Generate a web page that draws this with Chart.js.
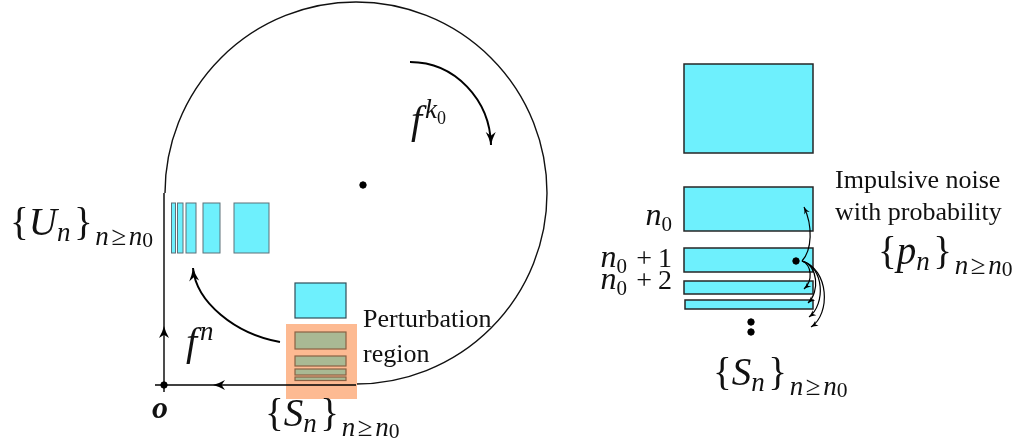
<!DOCTYPE html>
<html>
<head>
<meta charset="utf-8">
<script src="https://cdn.jsdelivr.net/npm/chart.js@4.4.1/dist/chart.umd.min.js"></script>
<style>
  html, body { margin: 0; padding: 0; background: #ffffff; overflow: hidden; }
  #c { display: block; }
  .fl { position: absolute; left: -9999px; top: 0; font-family: "Liberation Serif"; }
</style>
</head>
<body>
<span class="fl">Aa</span><span class="fl" style="font-style:italic">Aa</span><span class="fl" style="font-style:italic;font-weight:bold">Aa</span>
<canvas id="c" width="1022" height="443"></canvas>
<script>
// ---------- diagram data (in diagram units, mapped through the chart's scales) ----------
const orbitCircle = [356, 193, 191];            // centre x, centre y, radius
const axisVertical = [[164, 193], [164, 392]];
const axisHorizontal = [[155, 385], [356, 385]];
const dotPoints = [[363, 185], [164, 385], [796, 261], [751, 322], [751, 332]];

// rectangles: [x0, y0, x1, y1]
const unRects = [[171.5, 203, 175.5, 253], [177.5, 203, 183, 253], [186, 203, 196, 253], [203, 203, 220, 253], [234, 203, 269, 253]];
const imageRect = [[295, 283, 346, 318]];
const perturbRegion = [[286, 324, 357, 399]];
const snLeftRects = [[295, 332, 346, 349], [295, 356, 346, 366], [295, 369, 346, 375], [295, 377, 346, 380.5]];
const snRightRects = [[684, 64, 813, 153], [684, 187, 813, 231], [684, 248, 813, 272], [684, 281, 813, 294], [685, 300, 813, 309]];

// cubic curves: [x0,y0, c1x,c1y, c2x,c2y, x1,y1] ; arrow at the end
const mapCurves = [
  [410, 62, 455, 62, 490, 100, 491, 145],
  [280, 342, 235, 334, 196, 302, 193, 268]
];
const noiseCurves = [
  [802, 261, 812, 250, 813, 226, 804, 207],
  [802, 261, 812, 265, 813, 281, 804, 289],
  [802, 261, 818, 265, 820, 292, 808, 303],
  [802, 261, 824, 267, 826, 304, 809, 317],
  [802, 261, 829, 269, 831, 314, 811, 327]
];
const axisArrows = [[164, 326, -90], [213, 385, 180]];

// text
const plainLabels = [
  ['Perturbation', 363, 327],
  ['region', 363, 362],
  ['Impulsive noise', 835, 188],
  ['with probability', 835, 220]
];
const setLabels = [   // letter, x, baseline
  ['U', 10, 235],
  ['S', 265, 426],
  ['S', 713, 385],
  ['p', 878, 264]
];
const levelLabels = [ // suffix, right x, baseline
  ['', 672, 225],
  ['+1', 672, 267],
  ['+2', 672, 289]
];
const powerLabels = [ // base, exponent, exponent subscript, x, baseline
  ['f', 'n', '', 186, 355],
  ['f', 'k', '0', 411, 133]
];
const originLabel = ['o', 152, 418];

// ---------- drawing helpers ----------
const SERIF = '"Liberation Serif", "Times New Roman", Times, "DejaVu Serif", serif';

function diagramPlugin() {
  return {
    id: 'diagram',
    beforeDatasetsDraw(chart) {
      const ctx = chart.ctx, X = v => chart.scales.x.getPixelForValue(v), Y = v => chart.scales.y.getPixelForValue(v);
      const rect = (r, fill, stroke, lw) => {
        const x0 = X(r[0]), y0 = Y(r[1]), x1 = X(r[2]), y1 = Y(r[3]);
        ctx.fillStyle = fill; ctx.fillRect(x0, y0, x1 - x0, y1 - y0);
        if (stroke) { ctx.strokeStyle = stroke; ctx.lineWidth = lw; ctx.strokeRect(x0, y0, x1 - x0, y1 - y0); }
      };
      ctx.save();
      const cx = X(orbitCircle[0]), cy = Y(orbitCircle[1]);
      const r = X(orbitCircle[0] + orbitCircle[2]) - cx;
      ctx.beginPath();
      ctx.arc(cx, cy, r, Math.PI, Math.PI * 2.5, false);
      ctx.strokeStyle = '#111'; ctx.lineWidth = 1.4; ctx.stroke();

      unRects.forEach(q => rect(q, '#6ef0fd', '#5d7078', 1));
      rect(imageRect[0], '#6ef0fd', '#2f4f5a', 1.2);
      perturbRegion.forEach(q => rect(q, '#fdba92', null, 0));
      snLeftRects.forEach(q => rect(q, '#a9b994', '#8a6244', 1.2));
      snRightRects.forEach(q => rect(q, '#6ef0fd', '#262626', 1.5));
      ctx.restore();
    },
    afterDatasetsDraw(chart) {
      const ctx = chart.ctx, X = v => chart.scales.x.getPixelForValue(v), Y = v => chart.scales.y.getPixelForValue(v);
      ctx.save();
      const head = (x, y, ang, len, wid) => {
        ctx.save(); ctx.translate(x, y); ctx.rotate(ang);
        ctx.beginPath(); ctx.moveTo(0, 0);
        ctx.quadraticCurveTo(-len * 0.5, -wid * 0.15, -len, -wid / 2);
        ctx.lineTo(-len * 0.72, 0);
        ctx.lineTo(-len, wid / 2);
        ctx.quadraticCurveTo(-len * 0.5, wid * 0.15, 0, 0);
        ctx.closePath(); ctx.fill(); ctx.restore();
      };
      const curve = (c, lw, len, wid) => {
        const p = c.map((v, i) => i % 2 ? Y(v) : X(v));
        ctx.beginPath(); ctx.moveTo(p[0], p[1]);
        ctx.bezierCurveTo(p[2], p[3], p[4], p[5], p[6], p[7]);
        ctx.lineWidth = lw; ctx.stroke();
        head(p[6], p[7], Math.atan2(p[7] - p[5], p[6] - p[4]), len, wid);
      };
      ctx.strokeStyle = '#000'; ctx.fillStyle = '#000';
      mapCurves.forEach(c => curve(c, 2, 13, 10));
      noiseCurves.forEach(c => curve(c, 1.2, 7, 6));
      axisArrows.forEach(a => head(X(a[0]), Y(a[1]), a[2] * Math.PI / 180, 12, 10));

      ctx.fillStyle = '#111'; ctx.textBaseline = 'alphabetic'; ctx.textAlign = 'left';
      const fontOf = (s, st) => (st === 'i' ? 'italic ' : st === 'bi' ? 'italic bold ' : '') + s.toFixed(1) + 'px ' + SERIF;
      // run: [text, size, style, dy, gapAfter]
      const runs = (x, y, list) => {
        list.forEach(([t, s, st, dy, g]) => {
          ctx.font = fontOf(s, st);
          ctx.fillText(t, x, y + (dy || 0));
          x += ctx.measureText(t).width + (g || 0);
        });
        return x;
      };
      const runsWidth = list => {
        let w = 0;
        list.forEach(([t, s, st, dy, g]) => { ctx.font = fontOf(s, st); w += ctx.measureText(t).width + (g || 0); });
        return w;
      };
      plainLabels.forEach(([t, x, y]) => runs(X(x), Y(y), [[t, 26, 'n', 0, 0]]));
      setLabels.forEach(([L, x, y]) => {
        const S = 39, s = 27, g = 2.6;
        runs(X(x), Y(y), [
          ['{', S, 'n', 0, 0], [L, S, 'i', 0, 0], ['n', s, 'i', 6, g + 1], ['}', S, 'n', 0, g],
          ['n', s, 'i', 10, g], ['\u2265', s, 'n', 10, g], ['n', s, 'i', 10, 0], ['0', s * 0.8, 'n', 12, 0]
        ]);
      });
      levelLabels.forEach(([suf, x, y]) => {
        const list = [['n', 32, 'i', 0, 0], ['0', 21, 'n', 6, 0]];
        if (suf) { list.push(['\u2009', 26, 'n', 0, 4], [suf[0], 28, 'n', 0, 6], [suf[1], 28, 'n', 0, 0]); }
        runs(X(x) - runsWidth(list), Y(y), list);
      });
      powerLabels.forEach(([b, e, es, x, y]) => {
        const list = [[b, 40, 'i', 0, 3], [e, 27, 'i', -15, 0]];
        if (es) list.push(['0', 18, 'n', -9, 0]);
        runs(X(x), Y(y), list);
      });
      runs(X(originLabel[1]), Y(originLabel[2]), [[originLabel[0], 32, 'bi', 0, 0]]);
      ctx.restore();
    }
  };
}

function build() {
  const lineStyle = { showLine: true, borderColor: '#000', borderWidth: 1.4, pointRadius: 0, fill: false };
  new Chart(document.getElementById('c'), {
    type: 'scatter',
    data: {
      datasets: [
        Object.assign({ data: axisVertical.map(([x, y]) => ({ x, y })) }, lineStyle),
        Object.assign({ data: axisHorizontal.map(([x, y]) => ({ x, y })) }, lineStyle),
        { data: dotPoints.map(([x, y]) => ({ x, y })), pointRadius: 3.2, pointBackgroundColor: '#000', pointBorderColor: '#000', showLine: false }
      ]
    },
    options: {
      responsive: false,
      animation: false,
      devicePixelRatio: 1,
      layout: { padding: 0, autoPadding: false },
      plugins: { legend: { display: false }, tooltip: { enabled: false } },
      scales: {
        x: { type: 'linear', min: 0, max: 1022, display: false },
        y: { type: 'linear', min: 0, max: 443, reverse: true, display: false }
      }
    },
    plugins: [diagramPlugin()]
  });
}

const fontLoads = ['26px "Liberation Serif"', 'italic 26px "Liberation Serif"', 'italic bold 26px "Liberation Serif"']
  .map(f => (document.fonts && document.fonts.load) ? document.fonts.load(f).catch(() => null) : Promise.resolve());
Promise.all(fontLoads).then(build, build);
</script>
</body>
</html>
